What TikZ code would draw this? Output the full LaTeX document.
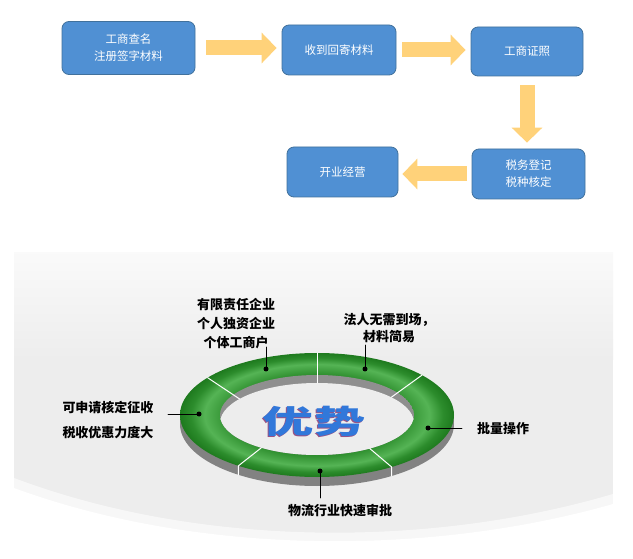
\documentclass[tikz,border=0pt]{standalone}
\usepackage{fontspec}
\newfontfamily\cjk{Noto Sans CJK SC}
\usetikzlibrary{arrows.meta}
\usetikzlibrary{positioning}
\definecolor{boxblue}{HTML}{5090D3}
\definecolor{boxline}{HTML}{41719C}
\definecolor{arrowyel}{HTML}{FFD27A}
\definecolor{panelgray}{HTML}{EDEDED}
\definecolor{ringlight}{HTML}{7CC87C}
\definecolor{ringin}{HTML}{2C8C2C}
\definecolor{ringmid}{HTML}{55B455}
\definecolor{ringout}{HTML}{1E7A1E}
\definecolor{wallgray}{HTML}{828282}
\definecolor{titleblue}{HTML}{3178DA}
\definecolor{titleshade}{HTML}{9A5283}
\pgfdeclareradialshading{ringshade}{\pgfpoint{0bp}{0bp}}{color(0bp)=(ringlight); color(16bp)=(ringin); color(20.5bp)=(ringmid); color(23bp)=(ringin); color(25bp)=(ringout); color(50bp)=(ringout)}

\begin{document}
\begin{tikzpicture}[line cap=round,line join=round,x=1pt,y=-1pt,
  stepbox/.style={draw=boxline,fill=boxblue,line width=0.8pt,rounded corners=7pt,text=white,
    font=\cjk\fontsize{11.5}{17}\selectfont,align=center,inner sep=0pt},
  bigarrow/.style={draw=arrowyel,line width=15pt,line cap=butt,-{Triangle[length=15pt,width=30pt]}},
  lbl/.style={font=\cjk\bfseries\fontsize{13}{19}\selectfont,align=center,inner sep=0pt},
  ringdot/.style={circle,fill=black,inner sep=0pt,minimum size=5pt},
  leader/.style={draw=black,line width=0.8pt},
  title/.style={font=\cjk\bfseries\fontsize{32}{32}\selectfont,xscale=1.6,inner sep=0pt}]
\useasboundingbox (0,0) rectangle (633,559);
\fill[white] (0,0) rectangle (633,559);
% flow chart
\node[stepbox,minimum width=133pt,minimum height=53pt] (chaming) at (128.5,48) {工商查名\\注册签字材料};
\node[stepbox,minimum width=114pt,minimum height=50pt] (shouji) at (339,50) {收到回寄材料};
\node[stepbox,minimum width=112pt,minimum height=49pt] (zhengzhao) at (527,51.5) {工商证照};
\node[stepbox,minimum width=113pt,minimum height=50pt] (shuiwu) at (528.5,174) {税务登记\\税种核定};
\node[stepbox,minimum width=111pt,minimum height=50pt] (kaiye) at (342.5,172) {开业经营};
\draw[bigarrow,shorten <=11pt,shorten >=5pt] (chaming.east) -- (chaming.east -| shouji.west);
\draw[bigarrow,shorten <=6pt,shorten >=5pt] (shouji.east) -- (shouji.east -| zhengzhao.west);
\draw[bigarrow,shorten <=9pt,shorten >=6pt] (zhengzhao.south) -- (zhengzhao.south |- shuiwu.north);
\draw[bigarrow,shorten <=5pt,shorten >=4pt] (shuiwu.west) -- (shuiwu.west -| kaiye.east);
% panel
\fill[panelgray] (14,253) rectangle (613,543);
\shade[top color=white!70!panelgray,bottom color=panelgray] (14,253) rectangle (613,360);
\fill[white,opacity=0.6] (14,478) .. controls (200,548) and (430,548) .. (613,494) -- (613,543) -- (14,543) -- cycle;
\fill[white] (14,488) .. controls (200,556) and (430,556) .. (613,504) -- (613,543) -- (14,543) -- cycle;
% ring
\fill[wallgray] (317,424) ellipse [x radius=137,y radius=62];
\shade[shading=ringshade] (317,415) ellipse [x radius=137,y radius=62];
\begin{scope}
\clip (317,415) ellipse [x radius=97,y radius=40];
\fill[wallgray!90] (317,415) ellipse [x radius=97,y radius=40];
\fill[panelgray] (317,423) ellipse [x radius=97,y radius=40];
\end{scope}
\foreach \a in {90,40,143}
  \draw[white,line width=1pt] ({317+97*cos(\a)},{423-40*sin(\a)}) -- ({317+137*cos(\a)},{415-62*sin(\a)});
\foreach \a in {-57,-125}
  \draw[white,line width=1pt] ({317+97*cos(\a)},{415-40*sin(\a)}) -- ({317+137*cos(\a)},{415-62*sin(\a)})
    -- ({317+137*cos(\a)},{424-62*sin(\a)});
\node[title,text=titleshade] (youshishadow) at (313,422.5) {优势};
\node[title,text=titleblue] (youshi) at (314,421) {优势};
% labels
\node[lbl] (qiye) at (236,324) {有限责任企业\\个人独资企业\\个体工商户};
\node[lbl,font=\cjk\bfseries\fontsize{13}{17}\selectfont] (faren) at (389,328.5) {法人无需到场，\\材料简易};
\node[lbl,font=\cjk\bfseries\fontsize{13}{25}\selectfont] (youhui) at (108,420.5) {可申请核定征收\\税收优惠力度大};
\node[lbl] (piliang) at (503,429) {批量操作};
\node[lbl] (wuliu) at (340,511) {物流行业快速审批};
\node[ringdot] (dotqiye) at (266,369) {};
\node[ringdot] (dotfaren) at (365,369) {};
\node[ringdot] (dotyouhui) at (199,414) {};
\node[ringdot] (dotpiliang) at (428,428) {};
\node[ringdot] (dotwuliu) at (320,471) {};
\coordinate (endqiye) at (266,347);
\coordinate (endfaren) at (365,345);
\coordinate (endyouhui) at (168,414);
\coordinate (endpiliang) at (462,428);
\coordinate (endwuliu) at (320,498);
\draw[leader] (dotqiye.center) -- (endqiye);
\draw[leader] (dotfaren.center) -- (endfaren);
\draw[leader] (dotyouhui.center) -- (endyouhui);
\draw[leader] (dotpiliang.center) -- (endpiliang);
\draw[leader] (dotwuliu.center) -- (endwuliu);
\end{tikzpicture}
\end{document}
